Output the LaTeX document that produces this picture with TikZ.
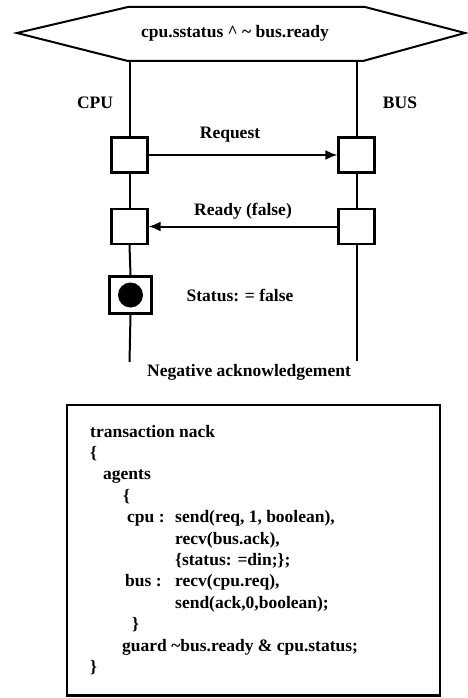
\documentclass[tikz,border=0pt]{standalone}
\usepackage{fontspec}
\setmainfont{Liberation Serif}
\usetikzlibrary{arrows.meta}
\begin{document}
\begin{tikzpicture}[x=1pt,y=-1pt,
  lbl/.style={font=\fontsize{17.5}{20}\selectfont\bfseries, inner sep=0pt},
  code/.style={lbl, anchor=base west},
  msgbox/.style={draw, line width=2.2pt, minimum width=36pt, minimum height=35pt, inner sep=0pt},
  statebox/.style={draw, line width=3pt, minimum width=42pt, minimum height=37pt, inner sep=0pt},
  life/.style={line width=2pt},
  msg/.style={line width=2pt, -{Latex[length=12pt,width=10pt]}},
  frame/.style={line width=2.5pt},
]
\useasboundingbox (0,0) rectangle (467,698);
% guard hexagon
\draw[line width=2pt, line join=miter] (17,33) -- (128,7) -- (365,7) -- (465,33) -- (363,61) -- (128,61) -- cycle;
\node[lbl] (guardtxt) at (235,33) {cpu.sstatus \textasciicircum{} \textasciitilde{} bus.ready};
% lifeline labels
\node[lbl] (cpulbl) at (95,103) {CPU};
\node[lbl] (buslbl) at (400,103) {BUS};
\coordinate (cputop) at (129.5,61);
\coordinate (bustop) at (356.5,61);
\coordinate (cpuend) at (129.5,362);
\coordinate (busend) at (356.5,361);
% boxes
\node[msgbox] (cpu1) at (129.5,155) {};
\node[msgbox] (bus1) at (356.5,155) {};
\node[msgbox] (cpu2) at (129.5,226.5) {};
\node[msgbox] (bus2) at (356.5,226.5) {};
\node[statebox] (st) at (130.5,295) {};
\fill (st.center) circle (12.5pt);
% lifelines
\draw[life] (cputop) -- (cpu1.north);
\draw[life] (cpu1.south) -- (cpu2.north);
\draw[life] (cpu2.south) -- (st.north);
\draw[life] (st.south) -- (cpuend);
\draw[life] (bustop) -- (bus1.north);
\draw[life] (bus1.south) -- (bus2.north);
\draw[life] (bus2.south) -- (busend);
% messages
\draw[msg] (cpu1.east) -- (bus1.west);
\draw[msg] (bus2.west) -- (cpu2.east);
\node[lbl] (reqlbl) at (230,135) {Request};
\node[lbl] (rdylbl) at (243,211) {Ready (false)};
\node[lbl] (stlbl) at (240,295) {Status: = false};
\node[lbl] (nack) at (249,372) {Negative acknowledgement};
% code frame
\draw[frame] (67,405) rectangle (440,695.5);
\node[code] (c1) at (90,437) {transaction nack};
\node[code] (c2) at (90,458.4) {\{};
\node[code] (c3) at (103,479.8) {agents};
\node[code] (c4) at (123,501.2) {\{};
\node[code] (c5a) at (127,522.6) {cpu :};
\node[code] (c5b) at (175,522.6) {send(req, 1, boolean),};
\node[code] (c6) at (175,544) {recv(bus.ack),};
\node[code] (c7) at (175,565.4) {\{status: =din;\};};
\node[code] (c8a) at (125,586.8) {bus :};
\node[code] (c8b) at (175,586.8) {recv(cpu.req),};
\node[code] (c9) at (175,608.2) {send(ack,0,boolean);};
\node[code] (c10) at (132,629.6) {\}};
\node[code] (c11) at (122,651) {guard \textasciitilde bus.ready \& cpu.status;};
\node[code] (c12) at (90,672.4) {\}};
\end{tikzpicture}
\end{document}
